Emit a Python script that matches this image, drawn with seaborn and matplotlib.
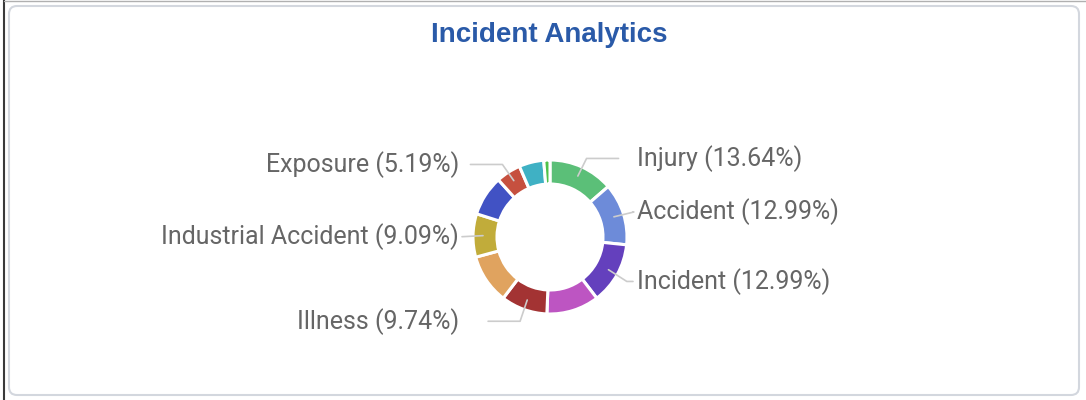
import numpy as np
import matplotlib
matplotlib.use("Agg")
import matplotlib.pyplot as plt
from matplotlib.patches import FancyBboxPatch
import seaborn as sns

# Incident counts per category (clockwise from the top)
categories = ["Injury", "Accident", "Incident", "Near Miss", "Illness",
              "Property Damage", "Industrial Accident", "Vehicle", "Exposure",
              "Environmental", "Other"]
counts = [21, 20, 20, 17, 15, 16, 14, 13, 8, 8, 2]
show_label = [True, True, True, False, True, False, True, False, True, False, False]
colors = ["#5bbf78", "#6d8bd9", "#6440bd", "#bd55c2", "#a33333", "#e0a35f",
          "#c1ac3a", "#4152c4", "#c6503f", "#3fb1c4", "#4fc24a"]

sns.set_theme(style="white")
plt.rcParams['font.family'] = ['Roboto', 'DejaVu Sans']

W, H = 1086, 400
fig = plt.figure(figsize=(W / 100, H / 100), dpi=100)
ax = fig.add_axes([0, 0, 1, 1])

# card background
card = FancyBboxPatch((9, 5), 1070, 389, boxstyle="round,pad=0,rounding_size=8",
                      facecolor="white", edgecolor="#d3d7de", linewidth=1.5, zorder=0)
ax.add_patch(card)
ax.plot([4, 4], [0, H], color="#3a3a3a", lw=1.5, zorder=1)
ax.plot([4, W], [H - 1, H - 1], color="#b0b0b0", lw=1, zorder=1)

cx, cy = 550, H - 237
r_out, r_in = 77, 53
wedges, _ = ax.pie(counts, colors=colors, startangle=90, counterclock=False,
                   center=(cx, cy), radius=r_out,
                   wedgeprops=dict(width=r_out - r_in, edgecolor="white", linewidth=2.2))

# labels with leader lines
total = sum(counts)
for w, name, c, show in zip(wedges, categories, counts, show_label):
    if not show:
        continue
    ang = np.deg2rad((w.theta1 + w.theta2) / 2)
    ca, sa = np.cos(ang), np.sin(ang)
    x0, y0 = cx + 67 * ca, cy + 67 * sa
    x1, y1 = cx + 88 * ca, cy + 88 * sa - 1.5
    right = ca >= 0
    if right:
        x2 = min(x1 + 32, 633)
        tx, ha = 637, "left"
    else:
        x2 = max(x1 - 32, 462)
        tx, ha = 459, "right"
    ax.plot([x0, x1, x2], [y0, y1, y1], color="#cccccc", lw=1.2, zorder=3)
    ax.text(tx, y1, f"{name} ({c / total * 100:.2f}%)", ha=ha, va="center",
            fontsize=18, color="#666666")

ax.text(549, H - 35, "Incident Analytics", ha="center", va="center",
        fontsize=20, fontweight="bold", color="#2a5aa8",
        family=['Liberation Sans', 'DejaVu Sans'])

ax.set_xlim(0, W)
ax.set_ylim(0, H)
ax.set_aspect("auto")
ax.axis("off")

fig.savefig("out.png", dpi=100)
